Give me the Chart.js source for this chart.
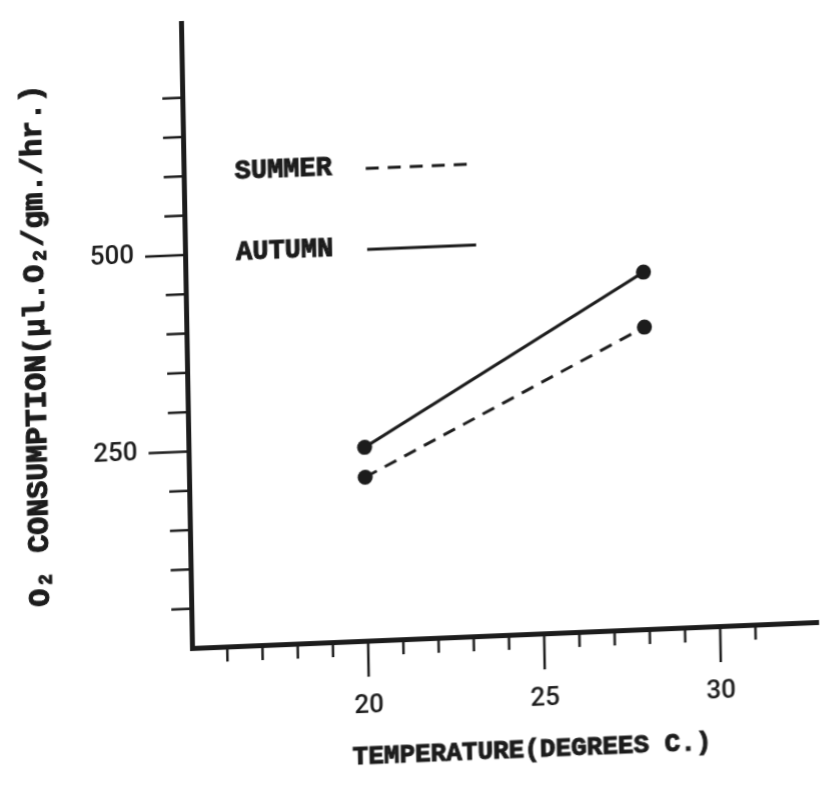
<!DOCTYPE html>
<html>
<head>
<meta charset="utf-8">
<title>O2 consumption vs temperature</title>
<script src="https://cdn.jsdelivr.net/npm/chart.js@4/dist/chart.umd.min.js"></script>
<style>
  html, body { margin: 0; padding: 0; background: #fff; }
  /* the old plate was photographed a little askew */
  #o2Chart {
    display: block;
    transform: matrix(1, -0.0415, 0.0176, 1, 0, 0);
    transform-origin: 192px 648px;
  }
</style>
</head>
<body>
<canvas id="o2Chart" width="828" height="785"></canvas>
<script>
/* ---------------- data ---------------- */
const tempC = [20, 28];
const summerO2 = [208, 384];
const autumnO2 = [246, 454];

const yLabelled = [250, 500];
const xLabelled = [20, 25, 30];

const INK = '#1c1c1c';
const TYPE = '"Liberation Mono", "Courier New", monospace';
const DIGITS = 'Roboto, "Liberation Sans", Arial, sans-serif';

const toPoints = ys => tempC.map((t, i) => ({ x: t, y: ys[i] }));

/* ---------------- tick marks: long where a label sits ---------------- */
const tickMarks = {
  id: 'tickMarks',
  afterDraw(chart) {
    const { ctx, chartArea: area, scales: { x, y } } = chart;
    ctx.save();
    ctx.strokeStyle = INK;
    ctx.lineWidth = 2.5;
    y.ticks.forEach(t => {
      const py = y.getPixelForValue(t.value);
      const len = yLabelled.includes(t.value) ? 40 : 20;
      ctx.beginPath();
      ctx.moveTo(area.left - len, py);
      ctx.lineTo(area.left, py);
      ctx.stroke();
    });
    x.ticks.forEach(t => {
      const px = x.getPixelForValue(t.value);
      const len = xLabelled.includes(t.value) ? 36 : 15;
      ctx.beginPath();
      ctx.moveTo(px, area.bottom);
      ctx.lineTo(px, area.bottom + len);
      ctx.stroke();
    });
    ctx.restore();
  }
};

// typewriter text: fill plus a thin stroke for the heavy ink
function typed(ctx, text, x, y) {
  ctx.fillText(text, x, y);
  ctx.strokeText(text, x, y);
}

/* ---------------- typed captions and key ---------------- */
const captions = {
  id: 'captions',
  afterDraw(chart) {
    const { ctx, chartArea: area } = chart;
    ctx.save();
    ctx.fillStyle = INK;
    ctx.strokeStyle = INK;
    ctx.lineWidth = 1;
    ctx.textBaseline = 'middle';

    // y caption
    ctx.font = `bold 30px ${TYPE}`;
    ctx.textAlign = 'center';
    ctx.save();
    ctx.translate(42, (area.top + area.bottom) / 2 + 4);
    ctx.rotate(-Math.PI / 2);
    typed(ctx, 'O₂ CONSUMPTION(µl.O₂/gm./hr.)', 0, 0);
    ctx.restore();

    // x caption
    ctx.font = `bold 26px ${TYPE}`;
    typed(ctx, 'TEMPERATURE(DEGREES C.)', area.left + 338, area.bottom + 116);

    // key
    const rows = [
      { text: 'SUMMER', ds: chart.data.datasets[0], y: area.top + 151 },
      { text: 'AUTUMN', ds: chart.data.datasets[1], y: area.top + 232 }
    ];
    ctx.font = `bold 27px ${TYPE}`;
    ctx.textAlign = 'left';
    rows.forEach(r => {
      ctx.lineWidth = 1;
      ctx.setLineDash([]);
      typed(ctx, r.text, area.left + 51, r.y);
      ctx.beginPath();
      ctx.lineWidth = r.ds.borderWidth;
      ctx.setLineDash(r.ds.borderDash || []);
      ctx.moveTo(area.left + 182, r.y + 2);
      ctx.lineTo(area.left + 291, r.y + 2);
      ctx.stroke();
    });
    ctx.restore();
  }
};

/* ---------------- chart ---------------- */
new Chart(document.getElementById('o2Chart'), {
  type: 'line',
  data: {
    datasets: [
      {
        label: 'SUMMER',
        data: toPoints(summerO2),
        borderColor: INK,
        borderWidth: 3,
        borderDash: [13, 9],
        pointRadius: 7.5,
        pointBorderWidth: 0,
        pointBackgroundColor: INK
      },
      {
        label: 'AUTUMN',
        data: toPoints(autumnO2),
        borderColor: INK,
        borderWidth: 3,
        pointRadius: 7.5,
        pointBorderWidth: 0,
        pointBackgroundColor: INK
      }
    ]
  },
  options: {
    responsive: false,
    animation: false,
    devicePixelRatio: 1,
    layout: { padding: { top: 23, right: 10, bottom: 0, left: 0 } },
    plugins: {
      legend: { display: false },
      tooltip: { enabled: false }
    },
    scales: {
      x: {
        type: 'linear',
        min: 15,
        max: 32.78,
        grid: { display: false, drawTicks: false },
        border: { display: true, width: 5, color: INK },
        ticks: {
          stepSize: 1,
          autoSkip: false,
          maxRotation: 0,
          padding: 50,
          color: INK,
          font: { family: DIGITS, size: 26, weight: '500' },
          callback: v => (xLabelled.includes(v) ? String(v) : '')
        },
        afterBuildTicks: s => { s.ticks = s.ticks.filter(t => t.value > 15 && t.value <= 32); },
        afterFit: s => {
          s.height = 137;
          s.paddingLeft = 0;
          s.paddingRight = 0;
        }
      },
      y: {
        min: 0,
        max: 795,
        grid: { display: false, drawTicks: false },
        border: { display: true, width: 5, color: INK },
        ticks: {
          stepSize: 50,
          autoSkip: false,
          padding: 51,
          color: INK,
          font: { family: DIGITS, size: 26, weight: '500' },
          callback: v => (yLabelled.includes(v) ? String(v) : '')
        },
        afterBuildTicks: s => { s.ticks = s.ticks.filter(t => t.value > 0 && t.value <= 700); },
        afterFit: s => {
          s.width = 192;
          s.paddingTop = 0;
          s.paddingBottom = 0;
        }
      }
    }
  },
  plugins: [tickMarks, captions]
});
</script>
</body>
</html>
